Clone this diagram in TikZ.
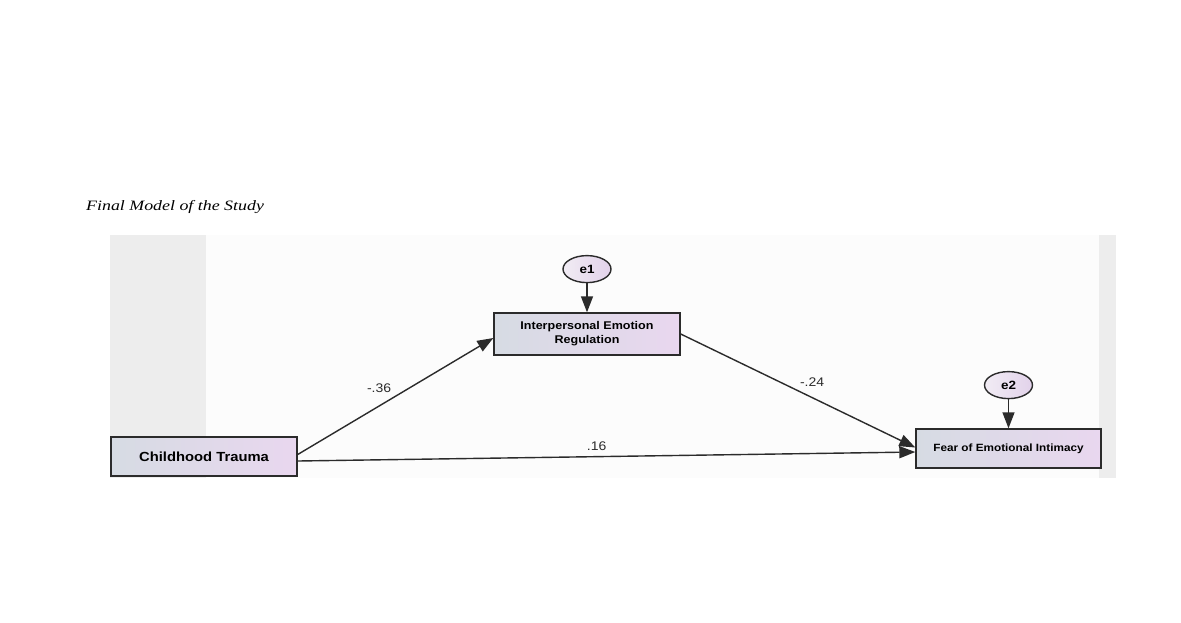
\documentclass[tikz,border=0pt]{standalone}
\usepackage{fontspec}
\usepackage{tikz}
\usetikzlibrary{arrows.meta,positioning,shapes.geometric}
\newfontfamily\diagfont[FakeStretch=1.12]{Liberation Sans}
\newfontfamily\capfont[FakeStretch=1.25]{Liberation Serif}
\definecolor{Line}{HTML}{2B2B2B}
\definecolor{Panel}{HTML}{FCFCFC}
\definecolor{Strip}{HTML}{EDEDED}
\definecolor{BoxL}{HTML}{D6DBE3}
\definecolor{BoxR}{HTML}{E9D7EF}
\definecolor{ErrL}{HTML}{F1ECF4}
\definecolor{ErrR}{HTML}{E2D2EA}

\begin{document}
\begin{tikzpicture}[
 x=1pt,y=-1pt,
 node distance=29pt and 40pt,
 v/.style={draw=Line,line width=1.4pt,left color=BoxL,right color=BoxR,minimum width=186pt,minimum height=39pt,align=center,font=\diagfont\bfseries},
 err/.style={ellipse,draw=Line,line width=1.4pt,left color=ErrL,right color=ErrR,minimum width=48pt,minimum height=27pt,inner sep=0pt,font=\diagfont\bfseries\fontsize{12}{14}\selectfont},
 a/.style={-{Triangle[length=16pt,width=12pt]},line width=1.4pt,draw=Line},
 w/.style={font=\diagfont\fontsize{12.5}{14}\selectfont,text=Line}
]
% page and panel
\fill[white] (0,0) rectangle (1181,622);
\fill[Panel] (110,235) rectangle (1116,478);
\fill[Strip] (110,235) rectangle (206,478);
\fill[Strip] (1099,235) rectangle (1116,478);
\node[anchor=base west,inner sep=0pt,font=\capfont\itshape\fontsize{14.3}{16}\selectfont] (title) at (86,210) {Final Model of the Study};
% variables
\node[v,font=\diagfont\bfseries\fontsize{13.2}{15}\selectfont] (ct) at (204,456.5) {Childhood Trauma};
\node[v,minimum height=42pt,font=\diagfont\bfseries\fontsize{11.2}{14}\selectfont] (ier) at (587,334) {Interpersonal Emotion\\Regulation};
\node[v,minimum width=185pt,font=\diagfont\bfseries\fontsize{10.5}{12}\selectfont] (fei) at (1008.5,448.5) {Fear of Emotional Intimacy};
\node[err,above=of ier] (e1) {e1};
\node[err,above=of fei] (e2) {e2};
% paths
\draw[a] (e1)--(ier);
\draw[a] (e2)--(fei);
\draw[a] ([yshift=2pt]ct.east)--node[w,pos=0.416,above=9pt]{-.36}([yshift=-4pt]ier.west);
\draw[a] ([yshift=-4.5pt]ct.east)--node[w,pos=0.484,above=1.5pt]{.16}([yshift=-3.5pt]fei.west);
\draw[a] (ier.east)--node[w,pos=0.56,above=7pt]{-.24}([yshift=1pt]fei.west);
\end{tikzpicture}
\end{document}
